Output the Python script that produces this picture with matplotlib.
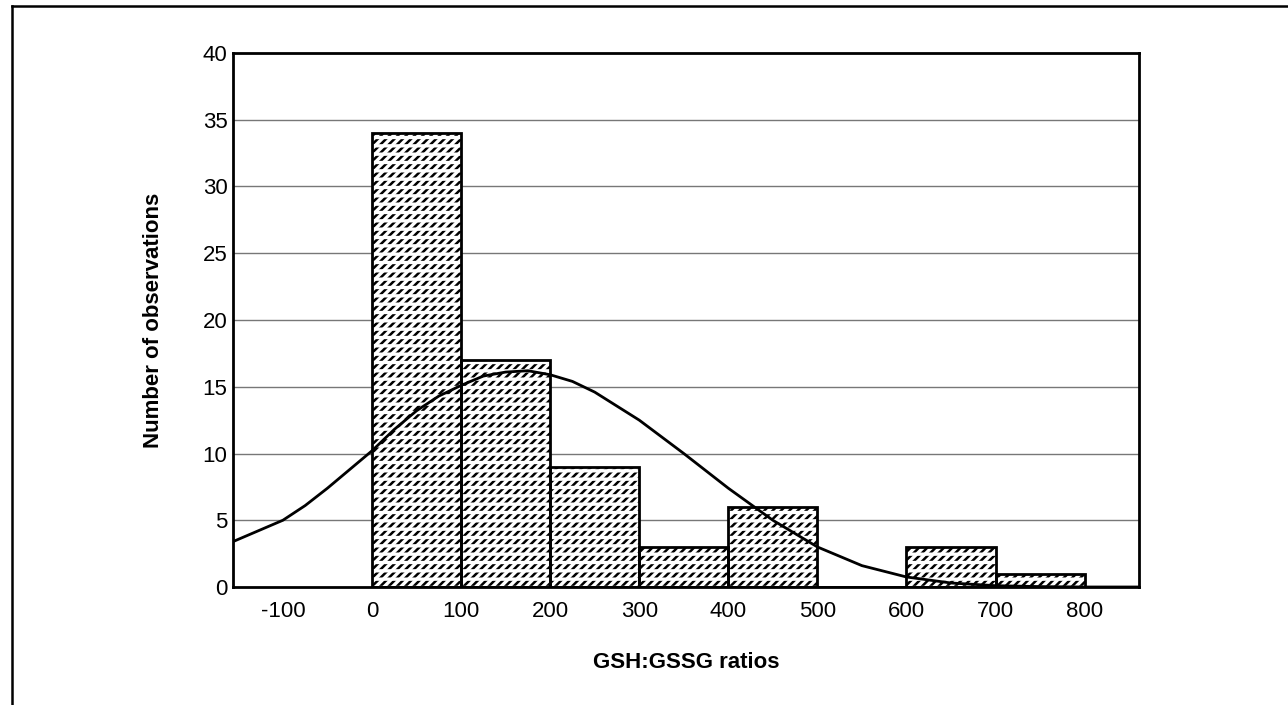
import matplotlib
matplotlib.use("Agg")
import matplotlib.pyplot as plt
from matplotlib.lines import Line2D

plt.rcParams['font.family'] = ['Liberation Sans', 'DejaVu Sans']
plt.rcParams['axes.unicode_minus'] = False

# histogram of GSH:GSSG ratios (bin edges every 100)
bin_left = [0, 100, 200, 300, 400, 500, 600, 700]
counts = [34, 17, 9, 3, 6, 0, 3, 1]
bin_width = 100

# expected normal curve, read at fixed x positions
curve_x = [-156, -100, -75, -50, -25, 0, 25, 50, 75, 100, 125, 150, 175,
           200, 225, 250, 300, 350, 400, 450, 500, 550, 600, 650, 700,
           750, 800, 861]
curve_y = [3.4, 5.0, 6.1, 7.4, 8.8, 10.2, 11.8, 13.2, 14.3, 15.1, 15.8,
           16.1, 16.2, 15.9, 15.4, 14.6, 12.5, 10.0, 7.4, 5.0, 3.0, 1.6,
           0.75, 0.3, 0.1, 0.03, 0.0, 0.0]

x_ticks = [-100, 0, 100, 200, 300, 400, 500, 600, 700, 800]
y_ticks = [0, 5, 10, 15, 20, 25, 30, 35, 40]

fig = plt.figure(figsize=(12.88, 7.05), dpi=100)
ax = fig.add_axes([233 / 1288, 1 - 587 / 705, 906 / 1288, 534 / 705])

ax.set_xlim(-156, 861)
ax.set_ylim(0, 40)

for y in y_ticks[1:-1]:
    ax.axhline(y, color='#777777', lw=1.0, zorder=0)

# dense diagonal hatch, broken into rows by white horizontal strokes
plt.rcParams['hatch.linewidth'] = 1.8
ax.bar(bin_left, counts, width=bin_width, align='edge', facecolor='white',
       edgecolor='black', hatch='////', lw=0, zorder=2)
with plt.rc_context({'hatch.linewidth': 2.4}):
    ax.bar(bin_left, counts, width=bin_width, align='edge', facecolor='none',
           edgecolor='white', hatch='--', lw=0, zorder=3)
ax.bar(bin_left, counts, width=bin_width, align='edge', facecolor='none',
       edgecolor='black', lw=2.0, zorder=4)

ax.plot(curve_x, curve_y, color='black', lw=2.0, zorder=5)

ax.set_xticks(x_ticks)
ax.set_yticks(y_ticks)
ax.tick_params(axis='x', length=0, labelsize=16, pad=10)
ax.tick_params(axis='y', length=0, labelsize=16, pad=4)
for s in ax.spines.values():
    s.set_linewidth(2.0)
    s.set_zorder(6)

ax.set_xlabel('GSH:GSSG ratios', fontsize=16, fontweight='bold', labelpad=22)
ax.set_ylabel('Number of observations', fontsize=16, fontweight='bold',
              labelpad=28)

# page frame: top and left rules
fig.add_artist(Line2D([12 / 1288, 1.0], [1 - 6 / 705, 1 - 6 / 705],
                      transform=fig.transFigure, color='black', lw=1.8))
fig.add_artist(Line2D([12 / 1288, 12 / 1288], [0.0, 1 - 6 / 705],
                      transform=fig.transFigure, color='black', lw=1.8))

fig.savefig('out.png', dpi=100)
